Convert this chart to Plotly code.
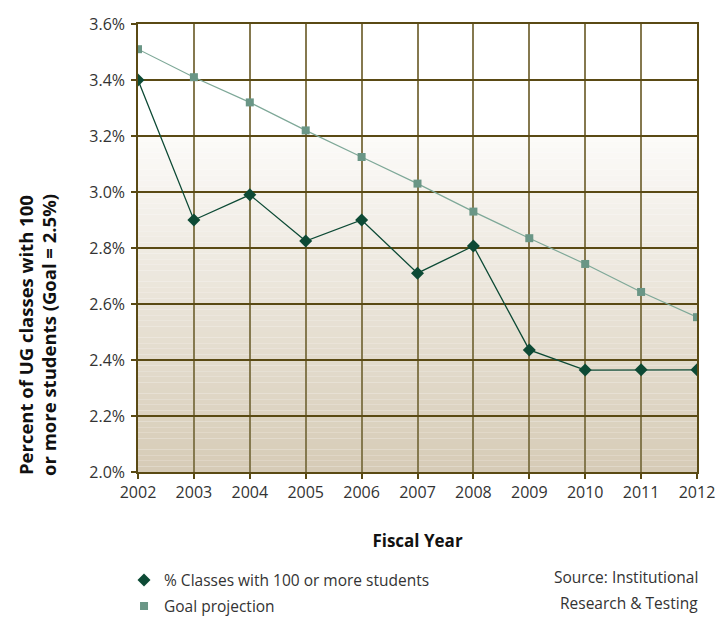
import plotly.graph_objects as go

years = [2002, 2003, 2004, 2005, 2006, 2007, 2008, 2009, 2010, 2011, 2012]
classes_pct = [3.40, 2.90, 2.99, 2.825, 2.90, 2.71, 2.807, 2.436, 2.364, 2.365, 2.365]
goal_pct = [3.51, 3.41, 3.32, 3.22, 3.125, 3.03, 2.93, 2.835, 2.743, 2.643, 2.553]
y_ticks = [2.0, 2.2, 2.4, 2.6, 2.8, 3.0, 3.2, 3.4, 3.6]
y_tick_labels = ["2.0%", "2.2%", "2.4%", "2.6%", "2.8%", "3.0%", "3.2%", "3.4%", "3.6%"]
source_lines = ["Source: Institutional", "Research & Testing"]
y_title_lines = ["Percent of UG classes with 100", "or more students (Goal = 2.5%)"]

FONT = "Open Sans"
DARK = "#0d4a35"
GOAL_LINE = "#7ea898"
GOAL_MK = "#6a9686"

fig = go.Figure()

# lines (no legend)
fig.add_trace(go.Scatter(x=years, y=goal_pct, mode="lines", showlegend=False,
                         line=dict(color=GOAL_LINE, width=1.2), hoverinfo="skip"))
fig.add_trace(go.Scatter(x=years, y=classes_pct, mode="lines", showlegend=False,
                         line=dict(color=DARK, width=1.3), hoverinfo="skip"))
# markers (legend)
fig.add_trace(go.Scatter(x=years, y=classes_pct, mode="markers",
                         name="% Classes with 100 or more students", legendgroup="a",
                         marker=dict(symbol="diamond", size=10, color=DARK)))
fig.add_trace(go.Scatter(x=years, y=goal_pct, mode="markers",
                         name="Goal projection", legendgroup="b",
                         marker=dict(symbol="square", size=8, color=GOAL_MK)))

# background gradient bands (white above 3.2%, tan toward bottom)
shapes = []
n = 60
top, bot = 3.2, 2.0
c0 = (252, 251, 249)
c1 = (214, 203, 182)
for i in range(n):
    y0 = top - (top - bot) * i / n
    y1 = top - (top - bot) * (i + 1) / n
    t = (i + 0.5) / n
    col = tuple(round(c0[k] + (c1[k] - c0[k]) * t) for k in range(3))
    shapes.append(dict(type="rect", xref="paper", yref="y", x0=0, x1=1, y0=y1, y1=y0,
                       fillcolor="rgb(%d,%d,%d)" % col, line=dict(width=0), layer="below"))

annotations = []
for i, txt in enumerate(source_lines):
    annotations.append(dict(
        text=txt, xref="paper", yref="paper",
        x=1.006, y=-0.205 - i * 0.058, xanchor="right", yanchor="top", align="right", showarrow=False,
        font=dict(family=FONT, size=15.5, color="#333333"),
    ))
for i, txt in enumerate(y_title_lines):
    annotations.append(dict(
        text="<b>" + txt + "</b>", xref="paper", yref="paper",
        x=-0.2021 + i * 0.0411, y=0.3058, xanchor="center", yanchor="middle",
        textangle=-90, showarrow=False,
        font=dict(family=FONT, size=18.5, color="#111111"),
    ))

fig.update_layout(
    width=727, height=618,
    margin=dict(l=138, r=30, t=24, b=146, autoexpand=False),
    paper_bgcolor="white", plot_bgcolor="white",
    font=dict(family=FONT, size=16, color="#333333"),
    shapes=shapes,
    showlegend=True,
    legend=dict(x=-0.025, y=-0.204, xanchor="left", yanchor="top",
                font=dict(family=FONT, size=15.5, color="#333333"),
                bgcolor="rgba(0,0,0,0)", traceorder="grouped", tracegroupgap=3, itemwidth=30),
    xaxis=dict(
        range=[2002, 2012], tickvals=years, ticktext=[str(y) for y in years],
        showgrid=True, gridcolor="#85794f", gridwidth=1.5,
        ticks="outside", ticklen=5, tickcolor="#5a4a14", tickwidth=1.5,
        showline=True, mirror=True, linecolor="#5a4a14", linewidth=1.5,
        zeroline=False,
        title=dict(text="<b>Fiscal Year</b>", font=dict(family=FONT, size=17, color="#111111"), standoff=33),
        tickfont=dict(family=FONT, size=16, color="#333333"),
    ),
    yaxis=dict(
        range=[2.0, 3.6], tickvals=y_ticks, ticktext=y_tick_labels,
        showgrid=True, gridcolor="#5a4a14", gridwidth=1.5,
        ticks="outside", ticklen=5, tickcolor="#5a4a14", tickwidth=1.5,
        ticklabelstandoff=3,
        showline=True, mirror=True, linecolor="#5a4a14", linewidth=1.5,
        zeroline=False,
        tickfont=dict(family=FONT, size=16, color="#333333"),
    ),
    annotations=annotations,
)

fig.write_html("out.html")
